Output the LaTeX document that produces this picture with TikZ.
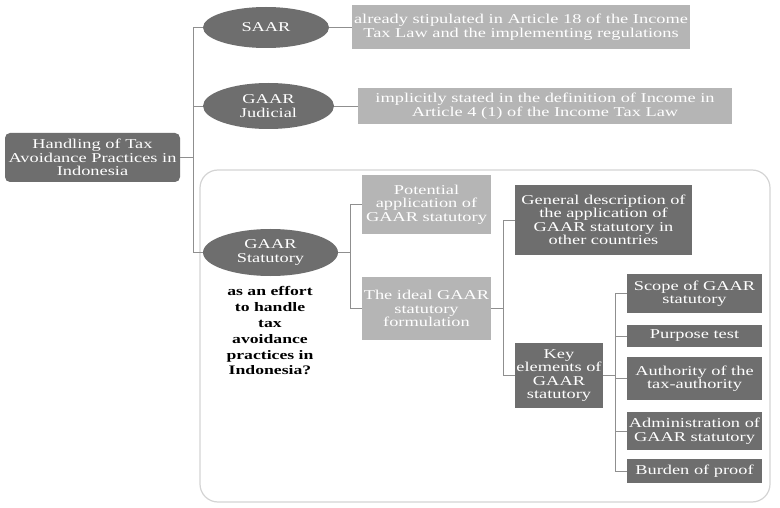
\documentclass[tikz,border=0pt]{standalone}
\usepackage{fontspec}
\setmainfont{Liberation Serif}[FakeStretch=1.36]
\usetikzlibrary{shapes.geometric}
\definecolor{dgray}{HTML}{6E6E6E}
\definecolor{lgray}{HTML}{B5B5B5}
\definecolor{lineg}{HTML}{8F8F8F}
\definecolor{frameg}{HTML}{D4D4D4}
\tikzset{
  base/.style={inner sep=0pt, align=center, text=white, font=\fontsize{13.5}{13.5}\selectfont},
  dbox/.style={base, fill=dgray},
  lbox/.style={base, fill=lgray},
  ell/.style={base, ellipse, fill=dgray},
  conn/.style={draw=lineg, line width=0.8pt},
}
\begin{document}
\begin{tikzpicture}[x=1pt,y=-1pt]
\useasboundingbox (0,0) rectangle (780,508);
\fill[white] (0,0) rectangle (780,508);
% frame
\draw[frameg, line width=1.2pt, rounded corners=18pt] (200,170) rectangle (770,502);
% nodes
\node[dbox, rounded corners=5pt, minimum width=175pt, minimum height=49pt] (root) at (92.5,157.5) {Handling of Tax\\Avoidance Practices in\\Indonesia};
\node[ell, minimum width=126pt, minimum height=41pt] (saar) at (266,27.5) {SAAR};
\node[ell, minimum width=131pt, minimum height=46pt] (jud) at (268.5,106) {GAAR\\Judicial};
\node[ell, minimum width=135pt, minimum height=47pt] (stat) at (270.5,252.5) {GAAR\\Statutory};
\node[lbox, minimum width=338pt, minimum height=44pt] (saarbox) at (521,27) {already stipulated in Article 18 of the Income\\Tax Law and the implementing regulations};
\node[lbox, minimum width=374pt, minimum height=36pt] (judbox) at (545,106) {implicitly stated in the definition of Income in\\Article 4 (1) of the Income Tax Law};
\node[base, text=black, font=\fontsize{13}{15.8}\selectfont\bfseries] (q) at (270,331) {as an effort\\to handle\\tax\\avoidance\\practices in\\Indonesia?};
\node[lbox, minimum width=129pt, minimum height=59pt] (pot) at (426.5,204.5) {Potential\\application of\\GAAR statutory};
\node[lbox, minimum width=129pt, minimum height=63pt] (ideal) at (426.5,308.5) {The ideal GAAR\\statutory\\formulation};
\node[dbox, minimum width=177pt, minimum height=70pt] (gen) at (603.5,220) {General description of\\the application of\\GAAR statutory in\\other countries};
\node[dbox, minimum width=88pt, minimum height=65pt] (key) at (559,375.5) {Key\\elements of\\GAAR\\statutory};
\node[dbox, minimum width=135pt, minimum height=39pt] (scope) at (694.5,293.5) {Scope of GAAR\\statutory};
\node[dbox, minimum width=135pt, minimum height=22pt] (purp) at (694.5,336) {Purpose test};
\node[dbox, minimum width=135pt, minimum height=43pt] (auth) at (694.5,378.5) {Authority of the\\tax-authority};
\node[dbox, minimum width=135pt, minimum height=38pt] (admin) at (694.5,431) {Administration of\\GAAR statutory};
\node[dbox, minimum width=135pt, minimum height=24pt] (burd) at (694.5,471) {Burden of proof};
% junctions
\coordinate (j1) at (193,157.5);
\coordinate (j2) at (350,252.5);
\coordinate (j3) at (503,308.5);
\coordinate (j4) at (615,375.5);
% connectors
\draw[conn] (root.east) -- (j1);
\draw[conn] (j1) |- (saar.west);
\draw[conn] (j1) |- (jud.west);
\draw[conn] (j1) |- (stat.west);
\draw[conn] (saar.east) -- (saarbox.west |- saar.east);
\draw[conn] (jud.east) -- (judbox.west |- jud.east);
\draw[conn] (stat.east) -- (j2);
\draw[conn] (j2) |- (pot.west);
\draw[conn] (j2) |- (ideal.west);
\draw[conn] (ideal.east) -- (j3);
\draw[conn] (j3) |- (gen.west);
\draw[conn] (j3) |- (key.west);
\draw[conn] (key.east) -- (j4);
\draw[conn] (j4) |- (scope.west);
\draw[conn] (j4) |- (purp.west);
\draw[conn] (j4) |- (auth.west);
\draw[conn] (j4) |- (admin.west);
\draw[conn] (j4) |- (burd.west);
\end{tikzpicture}
\end{document}
